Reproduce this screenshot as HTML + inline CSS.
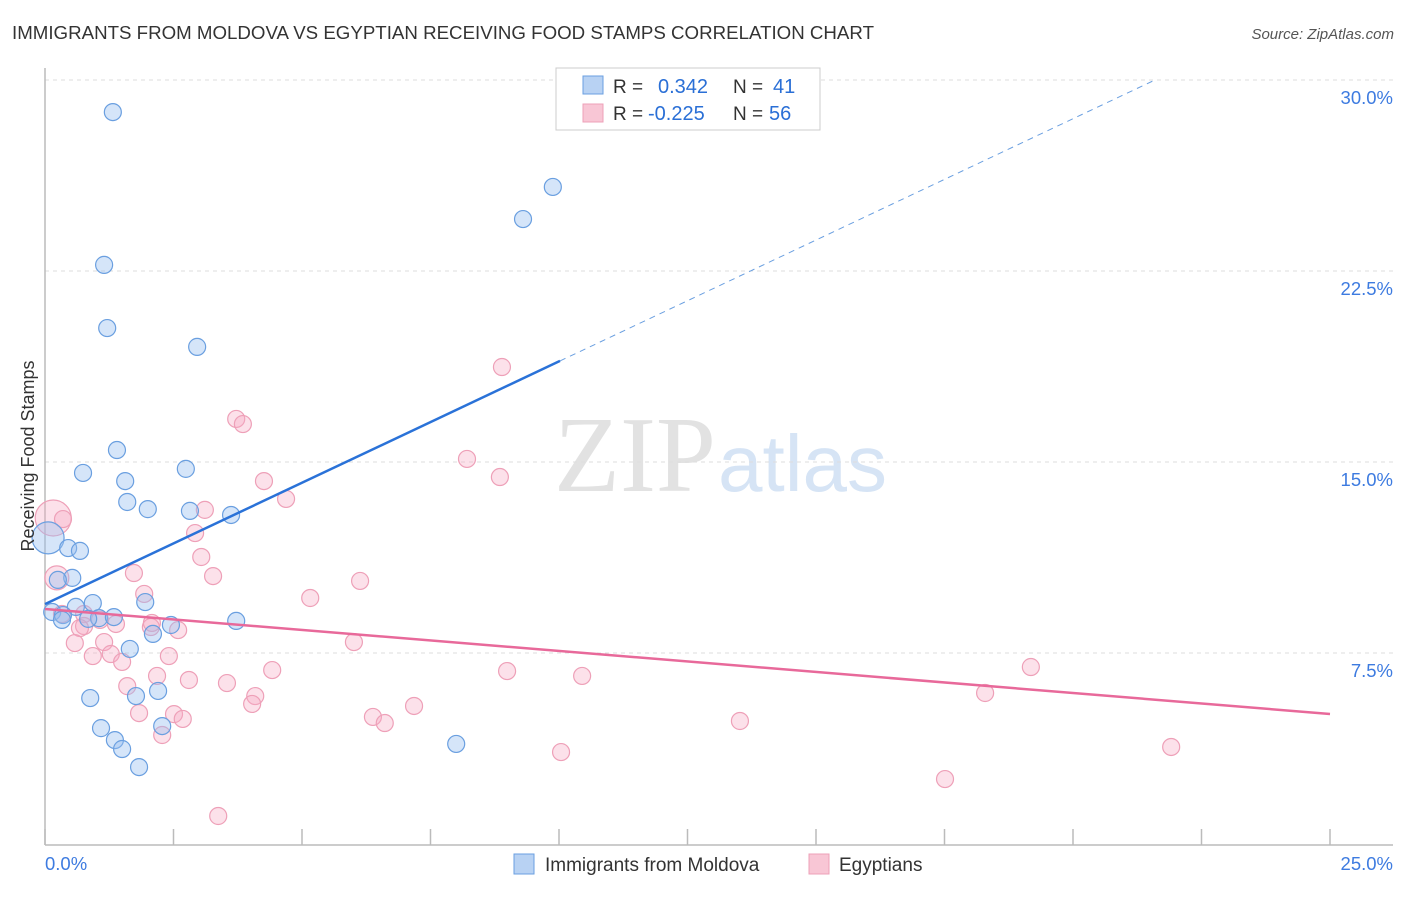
<!DOCTYPE html>
<html><head><meta charset="utf-8"><style>
body{margin:0;background:#fff;font-family:"Liberation Sans",sans-serif;}
</style></head><body>
<svg width="1406" height="892" xmlns="http://www.w3.org/2000/svg" style="font-family:'Liberation Sans',sans-serif">
<text x="12" y="39" font-size="18.5" fill="#333" textLength="862" lengthAdjust="spacingAndGlyphs">IMMIGRANTS FROM MOLDOVA VS EGYPTIAN RECEIVING FOOD STAMPS CORRELATION CHART</text>
<text x="1394" y="39" font-size="15" fill="#555" text-anchor="end" font-style="italic">Source: ZipAtlas.com</text>
<text x="716" y="491" font-size="108" fill="#e2e2e2" text-anchor="end" font-family="Liberation Serif,serif">ZIP</text>
<text x="718" y="491" font-size="80" fill="#d6e4f5">atlas</text>
<g id="grid"></g><g id="axes"></g><g id="marks"></g><g id="lines"></g>
<text x="34" y="456" font-size="18" fill="#333" text-anchor="middle" transform="rotate(-90 34 456)">Receiving Food Stamps</text>
<g>
<rect x="556" y="68" width="264" height="62" fill="#fff" stroke="#ccc"/>
<rect x="583" y="76" width="20" height="18" fill="#b8d2f3" stroke="#6a9fe0"/>
<rect x="583" y="104" width="20" height="18" fill="#f8c6d5" stroke="#eea0b8"/>
<text x="613" y="93" font-size="19" fill="#333">R = </text><text x="658" y="93" font-size="20" fill="#2a6fd6">0.342</text>
<text x="733" y="93" font-size="19" fill="#333">N = </text><text x="773" y="93" font-size="20" fill="#2a6fd6">41</text>
<text x="613" y="120" font-size="19" fill="#333">R = </text><text x="648" y="120" font-size="20" fill="#2a6fd6">-0.225</text>
<text x="733" y="120" font-size="19" fill="#333">N = </text><text x="769" y="120" font-size="20" fill="#2a6fd6">56</text>
</g>
<g>
<rect x="514" y="854" width="20" height="20" fill="#b8d2f3" stroke="#6a9fe0"/>
<text x="545" y="871" font-size="19" fill="#333">Immigrants from Moldova</text>
<rect x="809" y="854" width="20" height="20" fill="#f8c6d5" stroke="#eea0b8"/>
<text x="839" y="871" font-size="19" fill="#333">Egyptians</text>
</g>
</svg>
<script>
const blueX=[1.32,1.15,1.21,2.96,1.40,0.74,2.74,1.56,1.60,2.00,2.82,3.62,0.06,0.45,0.68,0.53,0.25,9.88,9.30,0.93,0.60,0.14,0.35,1.05,0.84,1.34,1.95,2.45,2.10,3.72,1.65,0.88,1.77,2.20,1.09,1.36,1.50,2.28,1.83,8.00,0.33];
const blueY=[28.74,22.74,20.26,19.52,15.47,14.57,14.73,14.25,13.43,13.15,13.08,12.92,12.02,11.62,11.51,10.45,10.37,25.80,24.54,9.46,9.31,9.11,8.99,8.87,8.84,8.91,9.50,8.60,8.25,8.76,7.66,5.73,5.81,6.01,4.55,4.08,3.73,4.63,3.02,3.93,8.80];
const blueBig=[12];
const pinkX=[8.89,3.72,3.85,8.21,8.85,4.26,4.69,3.11,2.92,0.16,0.35,3.04,3.27,1.73,6.13,0.23,1.93,5.16,0.76,0.33,1.07,1.38,2.06,2.59,0.76,0.68,2.08,0.58,1.15,0.93,1.28,1.50,2.41,6.01,4.42,8.99,10.45,19.18,2.18,2.80,1.60,3.54,4.09,4.03,18.29,1.83,2.51,2.68,6.38,6.61,7.18,13.52,2.28,10.04,21.91,17.51,3.37];
const pinkY=[18.73,16.69,16.49,15.12,14.41,14.25,13.55,13.12,12.21,12.80,12.76,11.27,10.52,10.64,10.33,10.45,9.82,9.66,9.03,9.03,8.80,8.64,8.52,8.40,8.56,8.48,8.68,7.89,7.93,7.38,7.46,7.15,7.38,7.93,6.83,6.79,6.60,6.95,6.60,6.44,6.20,6.32,5.81,5.50,5.93,5.14,5.10,4.91,4.99,4.75,5.42,4.83,4.28,3.61,3.81,2.55,1.10];
const pinkBig=[9,15];
const blueTrend=[9.42,0.953];   // intercept, slope
const blueSolidEnd=[10.02];
const pinkTrend=[9.23,-0.165];
const yTicks=[7.5,15,22.5,30];
const yTickLabels=["7.5%","15.0%","22.5%","30.0%"];
const xTicks=[0,2.5,5,7.5,10,12.5,15,17.5,20,22.5,25];

const NS="http://www.w3.org/2000/svg";
const X=v=>45+v/25*1285;
const Y=v=>844-v/7.5*191;
function mk(tag,at,parent){const e=document.createElementNS(NS,tag);for(const k in at)e.setAttribute(k,at[k]);document.getElementById(parent).appendChild(e);return e;}

yTicks.forEach((t,i)=>{
  const l=mk('line',{x1:45,x2:1393,y1:Y(t),y2:Y(t),stroke:'#ddd','stroke-dasharray':'4 4'},'grid');
  
  
  const tx=mk('text',{x:1393,y:Y(t)+24,'font-size':18.5,fill:'#3d7be0','text-anchor':'end'},'grid');
  tx.textContent=yTickLabels[i];
  
  
});
const ya=mk('line',{x1:45,x2:45,y1:68,y2:845,stroke:'#bbb','stroke-width':1.5},'axes');


const xa=mk('line',{x1:45,x2:1393,y1:845,y2:845,stroke:'#bbb','stroke-width':1.5},'axes');


xTicks.forEach(t=>{
  const l=mk('line',{x1:X(t),x2:X(t),y1:829,y2:845,stroke:'#bbb','stroke-width':1.5},'axes');
  
  
});
const xl0=mk('text',{x:45,y:870,'font-size':18.5,fill:'#3d7be0'},'axes');xl0.textContent='0.0%';


const xl1=mk('text',{x:1393,y:870,'font-size':18.5,fill:'#3d7be0','text-anchor':'end'},'axes');xl1.textContent='25.0%';



pinkX.forEach((v,i)=>{
  const r=pinkBig.includes(i)?(i===9?18:12):8.5;
  const c=mk('circle',{cx:X(v),cy:Y(pinkY[i]),r:r,fill:'rgba(246,170,195,0.35)',stroke:'#eea0b8','stroke-width':1.2},'marks');
  
  
});
blueX.forEach((v,i)=>{
  const r=blueBig.includes(i)?16:8.5;
  const c=mk('circle',{cx:X(v),cy:Y(blueY[i]),r:r,fill:'rgba(150,190,240,0.4)',stroke:'#6a9fe0','stroke-width':1.2},'marks');
  
  
});
const bMax=blueSolidEnd[0];
const bEnd=(30-blueTrend[0])/blueTrend[1];
const bl=mk('line',{x1:X(0),y1:Y(blueTrend[0]),x2:X(bMax),y2:Y(blueTrend[0]+blueTrend[1]*bMax),stroke:'#2a72d8','stroke-width':2.5},'lines');


const bd=mk('line',{x1:X(bMax),y1:Y(blueTrend[0]+blueTrend[1]*bMax),x2:X(bEnd),y2:Y(30),stroke:'#6a9fe0','stroke-width':1,'stroke-dasharray':'6 5'},'lines');


const pl=mk('line',{x1:X(0),y1:Y(pinkTrend[0]),x2:X(25),y2:Y(pinkTrend[0]+pinkTrend[1]*25),stroke:'#e8699a','stroke-width':2.5},'lines');


</script>
</body></html>
